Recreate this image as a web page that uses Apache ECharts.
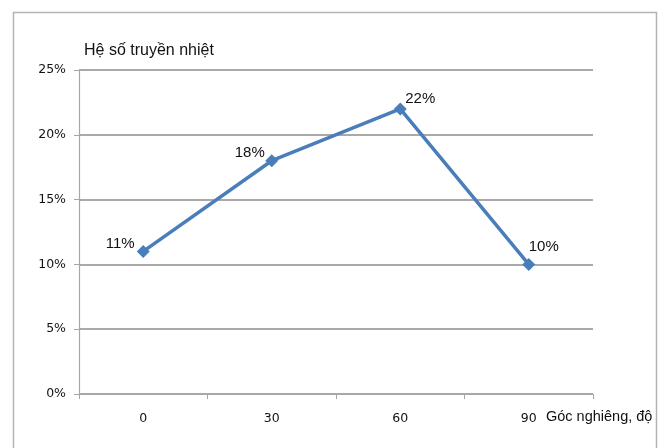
<!DOCTYPE html>
<html>
<head>
<meta charset="utf-8">
<script src="https://cdn.jsdelivr.net/npm/echarts@6/dist/echarts.min.js"></script>
<style>
  html, body { margin: 0; padding: 0; background: #ffffff; }
  #chart { width: 659px; height: 448px; }
</style>
</head>
<body>
<div id="chart"></div>
<script>
// Inclination angle (degrees) and heat transfer coefficient (%)
const angles = ['0', '30', '60', '90'];
const coefficients = [11, 18, 22, 10];
const yTicks = [0, 5, 10, 15, 20, 25];

// Per-point label placement around each marker
const labelOffsets = [[-23, 11], [-22, 11], [20, 9], [15, 1]];

const chart = echarts.init(document.getElementById('chart'), null, { renderer: 'canvas' });

const seriesData = coefficients.map((v, i) => ({
  value: v,
  label: { offset: labelOffsets[i] }
}));

chart.setOption({
  animation: false,
  backgroundColor: '#ffffff',
  title: {
    text: 'Hệ số truyền nhiệt',
    left: 79,
    top: 38,
    textStyle: { fontFamily: 'Liberation Sans, Arial, sans-serif', fontSize: 16, fontWeight: 'normal', color: '#111' }
  },
  graphic: [
    {
      type: 'rect',
      shape: { x: 13.5, y: 12.5, width: 643, height: 450 },
      style: { fill: 'none', stroke: '#b4b4b4', lineWidth: 1.5 },
      silent: true
    },
    {
      type: 'text',
      left: 546,
      top: 409,
      style: { text: 'Góc nghiêng, độ', font: '14.5px "Liberation Sans", Arial, sans-serif', fill: '#111' }
    }
  ],
  grid: { left: 79, right: 66, top: 70, bottom: 54 },
  xAxis: {
    type: 'category',
    data: angles,
    boundaryGap: true,
    axisLine: { lineStyle: { color: '#a6a6a6', width: 1.2 } },
    axisTick: { show: true, interval: 0, length: 5, lineStyle: { color: '#a6a6a6' } },
    axisLabel: { margin: 18, fontFamily: 'DejaVu Sans, Verdana, sans-serif', fontSize: 12.5, color: '#111' },
    splitLine: { show: false }
  },
  yAxis: {
    type: 'value',
    min: yTicks[0],
    max: yTicks[yTicks.length - 1],
    interval: 5,
    axisLine: { show: true, lineStyle: { color: '#a6a6a6', width: 1.2 } },
    axisTick: { show: true, length: 5, lineStyle: { color: '#a6a6a6' } },
    axisLabel: {
      margin: 13,
      formatter: v => v + '%',
      fontFamily: 'DejaVu Sans, Verdana, sans-serif',
      fontSize: 12.5,
      color: '#111'
    },
    splitLine: { show: true, lineStyle: { color: '#8c8c8c', width: 1.5 } }
  },
  series: [{
    type: 'line',
    data: seriesData,
    symbol: 'diamond',
    symbolSize: 13,
    lineStyle: { color: '#4a7ebb', width: 3.5 },
    itemStyle: { color: '#4a7ebb' },
    label: {
      show: true,
      position: 'top',
      formatter: p => p.value + '%',
      fontFamily: 'Liberation Sans, Arial, sans-serif',
      fontSize: 15,
      color: '#111'
    }
  }]
});
</script>
</body>
</html>
